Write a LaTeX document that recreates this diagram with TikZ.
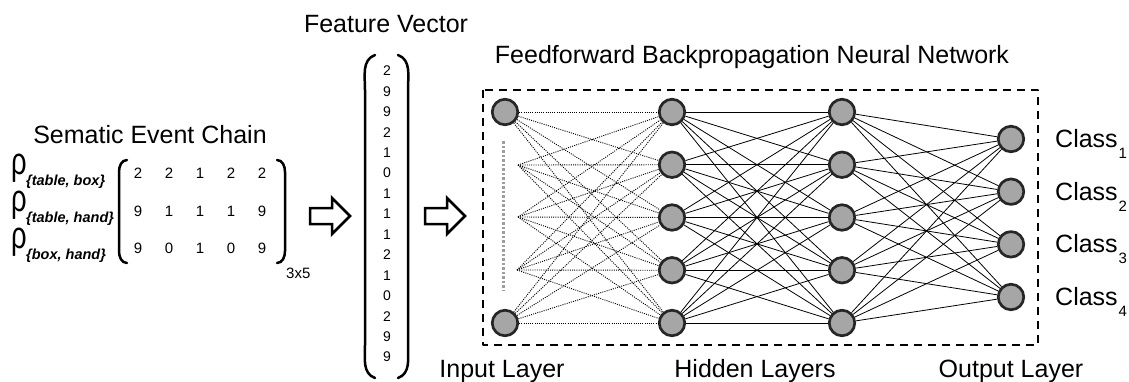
\documentclass[tikz,border=0pt]{standalone}
\usepackage{fontspec}
\setmainfont{Liberation Sans}
\usepackage{tikz}
\usetikzlibrary{positioning}
\colorlet{colorNeuron}{black!35}
\colorlet{colorBorder}{black!85}
\colorlet{colorDots}{black!38}
\newcommand{\lblsize}{\fontsize{25}{30}\selectfont}
\newcommand{\rhosub}[1]{\fontsize{14.5}{16}\selectfont\bfseries\itshape\{#1\}}

\begin{document}
\begin{tikzpicture}[x=1pt, y=-1pt, line join=round,
  neuron/.style={circle, draw=colorBorder, fill=colorNeuron, line width=2.7pt, minimum size=25.5pt, inner sep=0pt},
  lbltext/.style={font=\lblsize, anchor=base, inner sep=0pt},
  entry/.style={font=\fontsize{15}{17}\selectfont, inner sep=0pt},
  ventry/.style={font=\fontsize{14}{16}\selectfont, inner sep=0pt},
  bracket/.style={line width=2.5pt, line cap=round},
  inedge/.style={line width=0.9pt, dash pattern=on 1pt off 1.2pt},
  hedge/.style={line width=0.8pt},
  netbox/.style={line width=2.5pt, dash pattern=on 8pt off 6pt},
  blockarrow/.style={line width=2.5pt, line join=miter}]
\useasboundingbox (0,0) rectangle (1129,381);

% semantic event chain
\node[lbltext] (sec) at (150,143) {Sematic Event Chain};
\foreach \s [count=\r] in {{table, box},{table, hand},{box, hand}} {
  \node[anchor=base west, inner sep=0pt] (rho\r) at (11,{174+37*(\r-1)}) {\fontsize{38}{38}\selectfont\scalebox{0.72}[1]{ρ}};
  \node[anchor=base west, inner sep=0pt] (sub\r) at (26,{185+37*(\r-1)}) {\rhosub{\s}};
}
\foreach \v [count=\c] in {2,2,1,2,2} \node[entry] (ma\c) at ({138+31*(\c-1)},173) {\v};
\foreach \v [count=\c] in {9,1,1,1,9} \node[entry] (mb\c) at ({138+31*(\c-1)},211) {\v};
\foreach \v [count=\c] in {9,0,1,0,9} \node[entry] (mc\c) at ({138+31*(\c-1)},248) {\v};
\draw[bracket] (127,160) to[out=180,in=90] (119,172) -- (119,251) to[out=-90,in=180] (127,263);
\draw[bracket] (277,160) to[out=0,in=90] (285,172) -- (285,251) to[out=-90,in=0] (277,263);
\node[anchor=base west, inner sep=0pt, font=\fontsize{15}{17}\selectfont] (dim) at (286,278) {3x5};

% arrows
\draw[blockarrow] (310,208) -- (332,208) -- (332,198) -- (350,216) -- (332,234) -- (332,224) -- (310,224) -- cycle;
\draw[blockarrow] (425,208) -- (447,208) -- (447,198) -- (465,216) -- (447,234) -- (447,224) -- (425,224) -- cycle;

% feature vector
\node[lbltext] (fv) at (386,32) {Feature Vector};
\foreach \v [count=\k] in {2,9,9,2,1,0,1,1,1,2,1,0,2,9,9}
  \node[ventry] (v\k) at (387,{71+20.43*(\k-1)}) {\v};
\draw[bracket] (375,55) to[out=200,in=90] (365,90) -- (365,345) to[out=-90,in=160] (375,378);
\draw[bracket] (398,55) to[out=-20,in=90] (408,90) -- (408,345) to[out=-90,in=20] (398,378);

% network
\node[lbltext] (title) at (752,63) {Feedforward Backpropagation Neural Network};
\draw[netbox] (483,90) rectangle (1038,345);

\node[neuron] (i1) at (505,112) {};
\coordinate (i2) at (518,165);
\coordinate (i3) at (518,217);
\coordinate (i4) at (517,270);
\node[neuron] (i5) at (505,323) {};
\coordinate (dtop) at (503,141);
\coordinate (dbot) at (503,290);
\draw[colorDots, line width=3pt, dash pattern=on 2.5pt off 2pt] (dtop) -- (dbot);

\foreach \k in {1,...,5} {
  \node[neuron] (h\k) at (672,{112+52.75*(\k-1)}) {};
  \node[neuron] (g\k) at (842,{112+52.75*(\k-1)}) {};
}
\foreach \k in {1,...,4}
  \node[neuron] (o\k) at (1011,{139+52.67*(\k-1)}) {};

\foreach \a in {1,...,5}
  \foreach \b in {1,...,5} {
    \draw[inedge] (i\a) -- (h\b);
    \draw[hedge] (h\a) -- (g\b);
  }
\foreach \a in {1,...,5}
  \foreach \b in {1,...,4}
    \draw[hedge] (g\a) -- (o\b);

\foreach \k in {1,...,4}
  \node[anchor=base west, inner sep=0pt, font=\lblsize] (c\k) at (1055,{147.5+52.67*(\k-1)})
    {Class\hspace{1pt}\raisebox{-11pt}{\fontsize{15}{15}\selectfont\k}};

\node[lbltext] (inl) at (502,377) {Input Layer};
\node[lbltext] (hid) at (755,377) {Hidden Layers};
\node[lbltext] (outl) at (1011,377) {Output Layer};
\end{tikzpicture}
\end{document}
